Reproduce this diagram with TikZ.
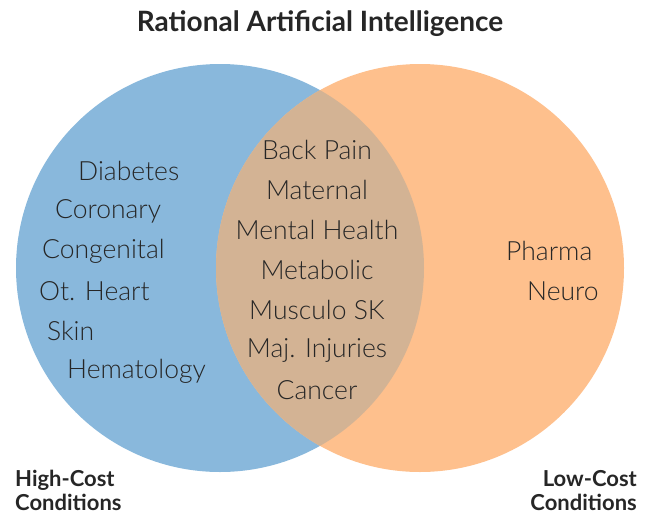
\documentclass[tikz,border=0pt]{standalone}
\usepackage{fontspec}
\setmainfont{Lato}
\newfontfamily\itemfont{Lato Light}
\newfontfamily\headfont{Lato Bold}
\definecolor{setblue}{HTML}{89B8DC}
\definecolor{setorange}{HTML}{FEC08D}
\definecolor{setboth}{HTML}{D3B394}
\definecolor{ink}{HTML}{262626}
\begin{document}
\begin{tikzpicture}[x=1pt,y=-1pt,
  item/.style={font=\itemfont\fontsize{26.5}{26.5}\selectfont, text=ink, inner sep=0pt},
  head/.style={font=\headfont\fontsize{22}{24}\selectfont, text=ink, inner sep=0pt, align=left}]
  \useasboundingbox (0,0) rectangle (648,517);
  % the two sets and their overlap
  \coordinate (hc) at (220,268);
  \coordinate (lc) at (420,268);
  \fill[setblue] (hc) circle[radius=204];
  \fill[setorange] (lc) circle[radius=204];
  \begin{scope}
    \clip (hc) circle[radius=204];
    \fill[setboth] (lc) circle[radius=204];
  \end{scope}
  % title
  \node[head, font=\headfont\fontsize{28}{30}\selectfont, anchor=center] (title) at (320,24) {Rational Artificial Intelligence};
  % high-cost only
  \node[item, anchor=west] (diab) at (78,171) {Diabetes};
  \node[item, anchor=west] (coro) at (55,211) {Coronary};
  \node[item, anchor=west] (cong) at (42,251) {Congenital};
  \node[item, anchor=west] (oth) at (39,291) {Ot. Heart};
  \node[item, anchor=west] (skin) at (47,331) {Skin};
  \node[item, anchor=west] (hema) at (67,371) {Hematology};
  % shared
  \node[item] (back) at (317,150) {Back Pain};
  \node[item] (mat) at (317,190) {Maternal};
  \node[item] (ment) at (317,230) {Mental Health};
  \node[item] (meta) at (317,270) {Metabolic};
  \node[item] (musc) at (317,310) {Musculo SK};
  \node[item] (inj) at (317,350) {Maj. Injuries};
  \node[item] (canc) at (317,390) {Cancer};
  % low-cost only
  \node[item, anchor=west] (phar) at (506,251) {Pharma};
  \node[item, anchor=west] (neur) at (527,291) {Neuro};
  % set labels
  \node[head, anchor=north west] (hlab) at (15,470) {High-Cost\\Conditions};
  \node[head, anchor=north east, align=right] (llab) at (637,470) {Low-Cost\\Conditions};
\end{tikzpicture}
\end{document}
